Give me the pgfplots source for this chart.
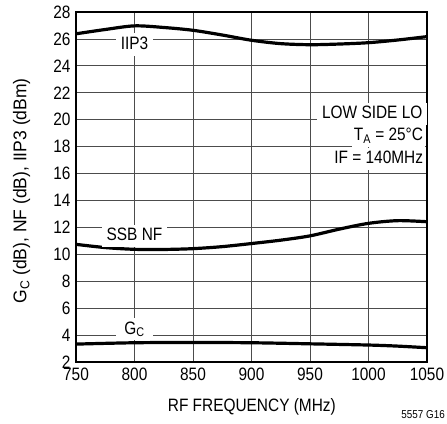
\documentclass[border=0pt]{standalone}
\usepackage{fontspec}
\setmainfont{Liberation Sans}[FakeStretch=0.86]
\newfontfamily\ylabfont{Liberation Sans}[FakeStretch=0.95]
\usepackage{pgfplots}
\pgfplotsset{compat=1.18}
\newcommand{\lab}{\fontsize{18}{20}\selectfont}
\begin{document}
\begin{tikzpicture}
\begin{axis}[name=ax, scale only axis, width=351bp, height=350bp,
  xmin=750, xmax=1050, ymin=2, ymax=28,
  xtick={750,800,...,1050}, ytick={2,4,...,28},
  grid=major, major grid style={line width=0.75bp, black!70},
  axis line style={line width=1.2bp},
  major tick length=0pt,
  tick label style={font=\lab},
  /pgf/number format/assume math mode=true,
  /pgf/number format/set thousands separator={},
  yticklabel style={xshift=-2bp},
  xticklabel style={yshift=-2bp},
  xlabel={RF FREQUENCY (MHz)},
  ylabel={G\textsubscript{C} (dB), NF (dB), IIP3 (dBm)},
  xlabel style={font=\lab, at={(axis description cs:0.501,-0.129)}, anchor=center},
  ylabel style={font=\ylabfont\fontsize{18.5}{20}\selectfont, at={(axis description cs:-0.155,0.489)}, anchor=center},
  clip=false,
]
\addplot[smooth, line width=3.2bp, black] coordinates {
 (750,26.38) (775,26.7) (800,26.97) (825,26.85) (850,26.64) (875,26.29) (900,25.9) (925,25.65) (950,25.57) (975,25.62) (1000,25.72) (1025,25.92) (1050,26.17)};
\addplot[smooth, line width=3.2bp, black] coordinates {
 (750,10.74) (775,10.5) (800,10.37) (825,10.36) (850,10.42) (875,10.57) (900,10.8) (925,11.05) (950,11.37) (975,11.87) (1000,12.3) (1025,12.5) (1050,12.42)};
\addplot[smooth, line width=3.2bp, black] coordinates {
 (750,3.33) (800,3.43) (850,3.45) (900,3.43) (950,3.35) (1000,3.26) (1025,3.18) (1050,3.06)};
\tikzset{lbl/.style={fill=white, font=\lab, text height=13.5bp, text depth=4bp, inner ysep=2.5bp}}
\node[lbl, inner xsep=5bp, anchor=base] at (axis cs:800,25.25) {IIP3};
\node[lbl, inner xsep=5bp, anchor=base] at (axis cs:800,10.99) {SSB NF};
\node[lbl, inner xsep=8bp, anchor=base] at (axis cs:800,4.08) {G\textsubscript{C}};
\node[lbl, inner xsep=5bp, anchor=base east] at (axis cs:1050.5,20.07) {LOW SIDE LO};
\node[lbl, inner xsep=2bp, anchor=base east] at (axis cs:1048.5,18.44) {T\textsubscript{A} = 25°C};
\node[lbl, inner xsep=2bp, anchor=base east] at (axis cs:1048.5,16.74) {IF = 140MHz};
\node[font=\fontsize{11.5}{12}\selectfont, anchor=center] at (axis description cs:0.989,-0.151) {5557 G16};
\end{axis}
\pgfresetboundingbox
\path[use as bounding box] ([shift={(-76bp,-62bp)}]ax.south west) rectangle ([shift={(20bp,12bp)}]ax.north east);
\end{tikzpicture}
\end{document}
